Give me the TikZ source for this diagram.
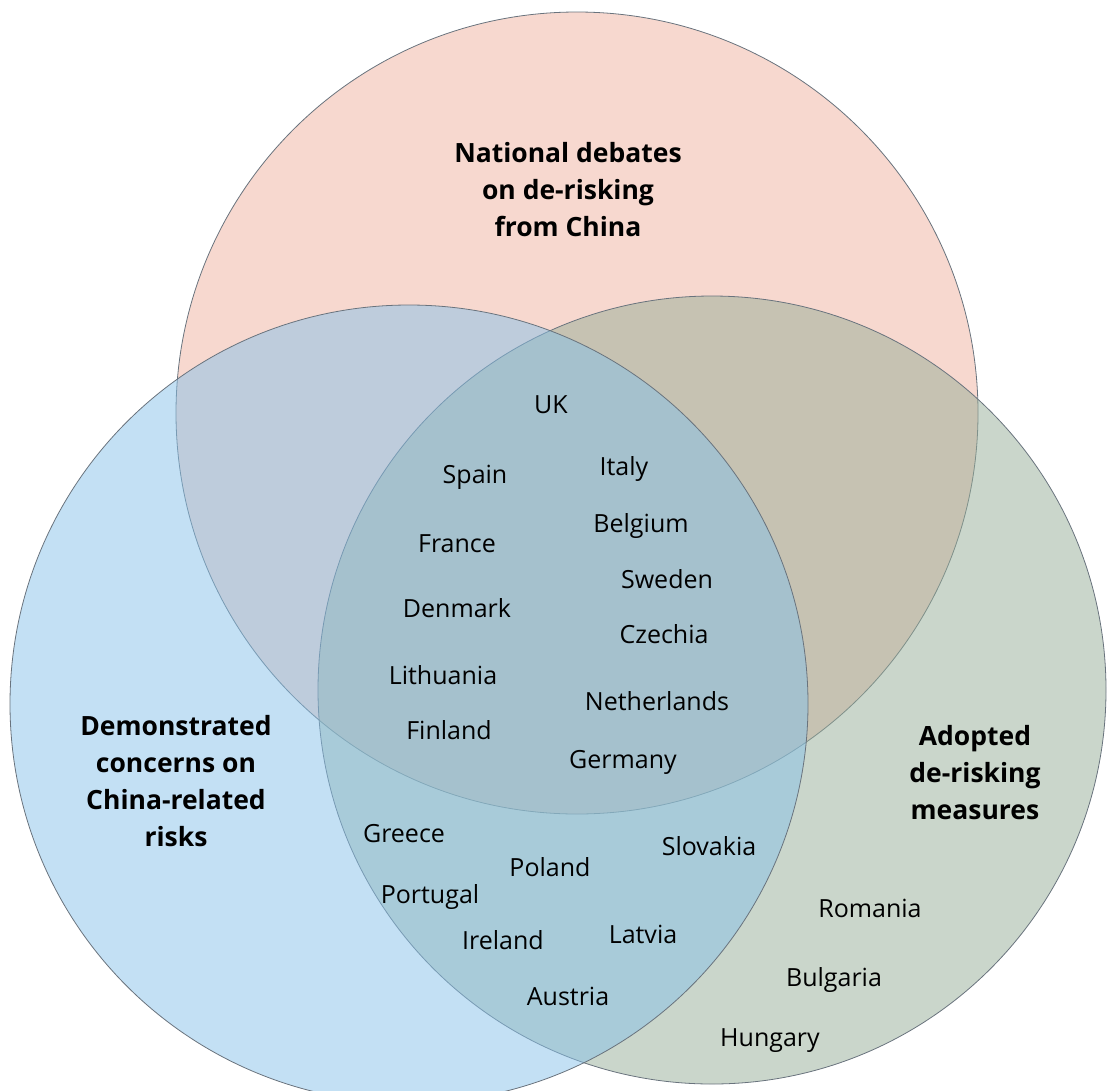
\documentclass[tikz,border=0pt]{standalone}
\usepackage{fontspec}
\setmainfont{Open Sans}
\definecolor{debatepink}{RGB}{239,177,159}
\definecolor{riskblue}{RGB}{135,193,233}
\definecolor{measgreen}{RGB}{149,173,151}
\definecolor{rimgray}{RGB}{105,115,125}

\begin{document}
\begin{tikzpicture}[x=1pt, y=-1pt,
  setdisc/.style={draw=rimgray, line width=0.8pt, fill opacity=0.5},
  country/.style={font=\fontsize{25}{30}\selectfont, inner sep=0pt, anchor=base},
  settitle/.style={font=\fontsize{26.5}{37}\selectfont\bfseries, align=center, inner sep=0pt}]
\useasboundingbox (0,0) rectangle (1107,1090);

% the three sets
\begin{scope}
\clip (0,0) rectangle (1107,1090);
\path[setdisc, fill=debatepink] (577,413) circle (401pt);
\path[setdisc, fill=measgreen]  (712,690) circle (394pt);
\path[setdisc, fill=riskblue]   (409,704) circle (399pt);
\end{scope}

% set titles
\node[settitle] (debates)  at (568,190) {National debates\\on de-risking\\from China};
\node[settitle] (concerns) at (176,781) {Demonstrated\\concerns on\\China-related\\risks};
\node[settitle] (adopted)  at (975,773) {Adopted\\de-risking\\measures};

% all three
\node[country] (uk)   at (551,413) {UK};
\node[country] (es)   at (475,483) {Spain};
\node[country] (it)   at (624,475) {Italy};
\node[country] (fr)   at (457,552) {France};
\node[country] (be)   at (641,532) {Belgium};
\node[country] (se)   at (667,588) {Sweden};
\node[country] (dk)   at (457,617) {Denmark};
\node[country] (cz)   at (664,643) {Czechia};
\node[country] (lt)   at (443,684) {Lithuania};
\node[country] (nl)   at (657,710) {Netherlands};
\node[country] (fi)   at (449,739) {Finland};
\node[country] (de)   at (623,768) {Germany};

% concerns and measures
\node[country] (gr)   at (404,842) {Greece};
\node[country] (pl)   at (550,876) {Poland};
\node[country] (sk)   at (709,855) {Slovakia};
\node[country] (pt)   at (430,903) {Portugal};
\node[country] (ie)   at (503,949) {Ireland};
\node[country] (lv)   at (643,943) {Latvia};
\node[country] (at)   at (568,1005) {Austria};

% measures only
\node[country] (ro)   at (870,917) {Romania};
\node[country] (bg)   at (834,986) {Bulgaria};
\node[country] (hu)   at (770,1046) {Hungary};
\end{tikzpicture}
\end{document}
